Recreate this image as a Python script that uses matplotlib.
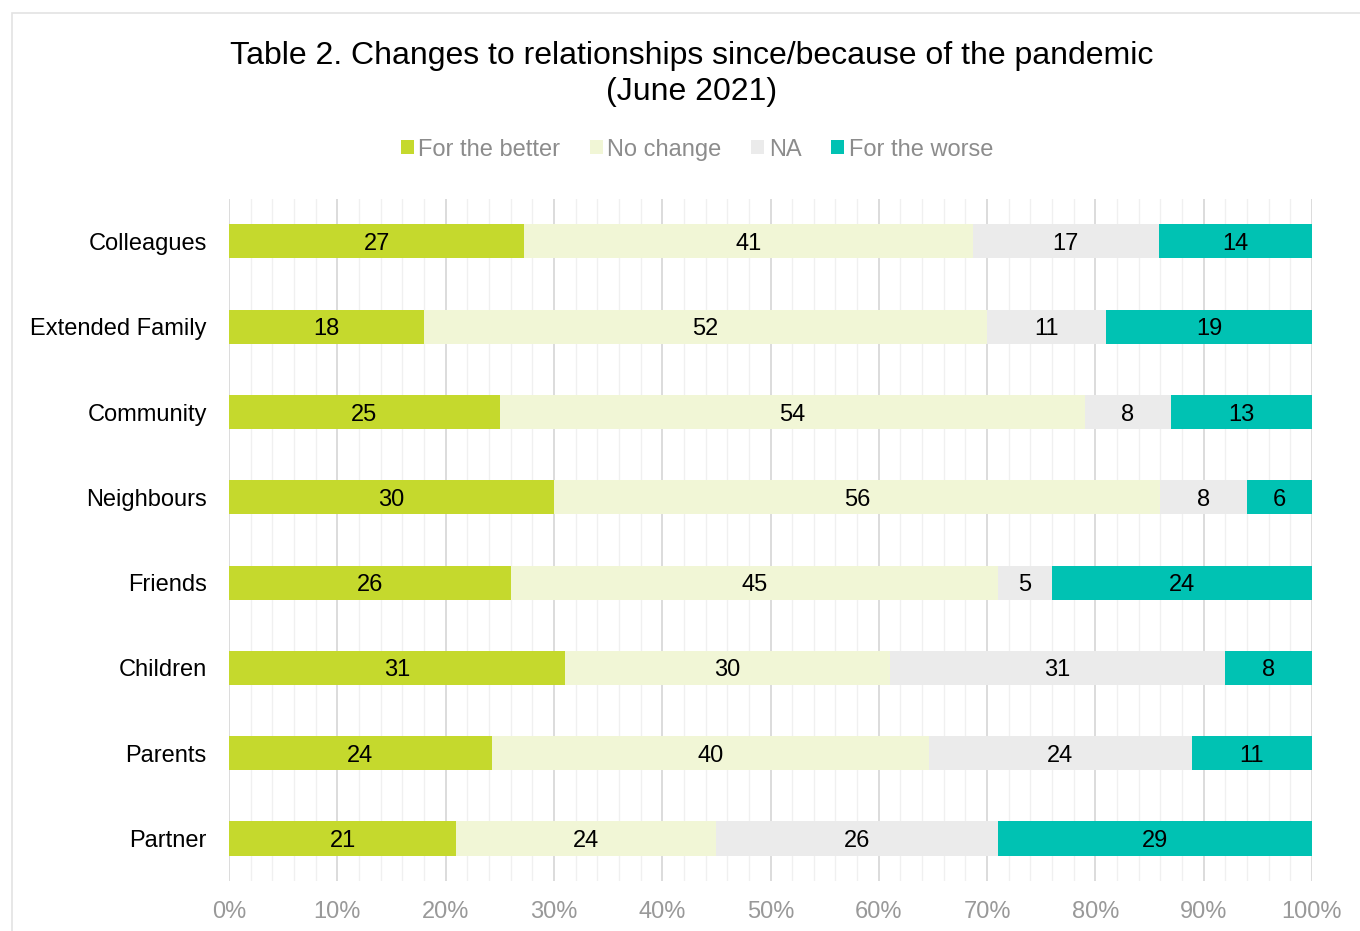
import numpy as np
import matplotlib.pyplot as plt
from matplotlib.patches import Rectangle
from matplotlib.ticker import MultipleLocator, PercentFormatter

plt.rcParams['font.family'] = ['Liberation Sans', 'DejaVu Sans']

groups = ['Colleagues', 'Extended Family', 'Community', 'Neighbours',
          'Friends', 'Children', 'Parents', 'Partner']
better = [27, 18, 25, 30, 26, 31, 24, 21]
no_change = [41, 52, 54, 56, 45, 30, 40, 24]
na = [17, 11, 8, 8, 5, 31, 24, 26]
worse = [14, 19, 13, 6, 24, 8, 11, 29]

series = [('For the better', better, '#c5d92d'),
          ('No change', no_change, '#f1f6d6'),
          ('NA', na, '#ebebeb'),
          ('For the worse', worse, '#00c2b3')]

data = np.array([s[1] for s in series], dtype=float)
shares = data / data.sum(axis=0) * 100

fig = plt.figure(figsize=(13.6, 9.31), dpi=100)
ax = fig.add_axes([0.1684, 0.0535, 0.7963, 0.733])

# light frame around the whole chart
fig.patches.append(Rectangle((12 / 1360, -0.05), 1.2, 1 - 13 / 931 + 0.05,
                             transform=fig.transFigure, fill=False,
                             edgecolor='#e3e3e3', linewidth=1.2))

y = np.arange(len(groups))
left = np.zeros(len(groups))
for i, (name, vals, color) in enumerate(series):
    ax.barh(y, shares[i], left=left, height=0.4, color=color, label=name,
            zorder=3)
    for yi, (l, w, v) in enumerate(zip(left, shares[i], vals)):
        ax.text(l + w / 2, yi, str(v), ha='center', va='center_baseline',
                fontsize=17, color='black', zorder=4)
    left += shares[i]

ax.set_xlim(0, 100)
ax.set_ylim(len(groups) - 0.5, -0.5)
ax.set_yticks(y)
ax.set_yticklabels(groups, fontsize=17)
ax.xaxis.set_major_locator(MultipleLocator(10))
ax.xaxis.set_minor_locator(MultipleLocator(2))
ax.xaxis.set_major_formatter(PercentFormatter(decimals=0))
ax.tick_params(axis='x', which='both', length=0, labelsize=17,
               labelcolor='#999999', pad=14)
ax.tick_params(axis='y', length=0, pad=16)
ax.grid(axis='x', which='major', color='#d9d9d9', linewidth=1.3, zorder=0)
ax.grid(axis='x', which='minor', color='#f0f0f0', linewidth=1.0, zorder=0)
for sp in ax.spines.values():
    sp.set_visible(False)

fig.text(0.5085, 0.9208, 'Table 2. Changes to relationships since/because of the pandemic\n(June 2021)',
         ha='center', va='center', fontsize=23, linespacing=1.25)

ax.legend(loc='center', bbox_to_anchor=(0.432, 1.072), ncol=4, frameon=False,
          fontsize=17, labelcolor='#8c8c8c', handlelength=0.55,
          handleheight=0.55, handletextpad=0.2, columnspacing=1.25)

fig.savefig('out.png', dpi=100)
